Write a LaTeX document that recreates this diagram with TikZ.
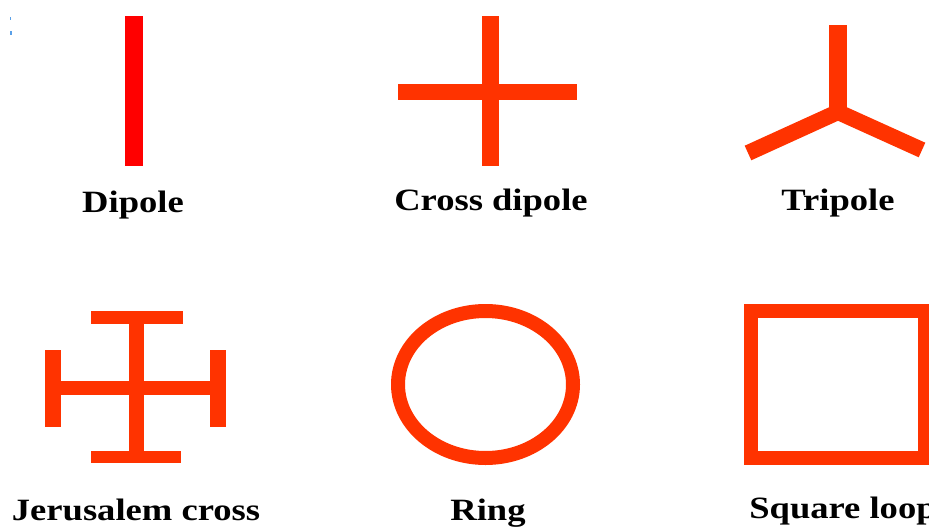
\documentclass[tikz,border=0pt]{standalone}
\usepackage{fontspec}
\setmainfont{Liberation Serif}
\definecolor{dipred}{HTML}{FF0000}
\definecolor{elemred}{HTML}{FF3300}
\definecolor{speck}{HTML}{5AA0E8}
\begin{document}
\begin{tikzpicture}[x=1pt,y=-1pt,
  lbl/.style={anchor=base,inner sep=0pt,font=\bfseries\fontsize{31}{36}\selectfont,xscale=1.18},
  elem/.style={draw=elemred,line width=14pt},
  fillel/.style={fill=elemred,draw=none}]
\useasboundingbox (0,0) rectangle (929,527);
% specks
\fill[speck] (9.8,17) rectangle (11.4,20.5);
\fill[speck] (9.6,31.5) rectangle (11.6,35.5);
% Dipole
\fill[dipred] (125,16) rectangle (143,166);
\node[lbl] (l1) at (133,212) {Dipole};
% Cross dipole
\fill[fillel] (482,16) rectangle (499,166);
\fill[fillel] (398,84) rectangle (577,100);
\node[lbl] (l2) at (491,210) {Cross dipole};
% Tripole
\coordinate (tc) at (838,112);
\coordinate (tt) at (838,25);
\coordinate (tl) at (748,153);
\coordinate (tr) at (922,150);
\draw[draw=elemred,line width=18pt] (tc) -- (tt);
\draw[draw=elemred,line width=16pt,line join=miter] (tl) -- (tc) -- (tr);
\node[lbl] (l3) at (838,210) {Tripole};
% Jerusalem cross
\fill[fillel] (129,311) rectangle (144,463);
\fill[fillel] (91,311) rectangle (183,324);
\fill[fillel] (91,451) rectangle (181,463);
\fill[fillel] (45,381) rectangle (226,395);
\fill[fillel] (45,350) rectangle (61,427);
\fill[fillel] (210,350) rectangle (226,427);
\node[lbl] (l4) at (136,520) {Jerusalem cross};
% Ring
\draw[elem] (485.5,384.5) ellipse [x radius=87.5, y radius=73.5];
\node[lbl] (l5) at (488,520) {Ring};
% Square loop
\draw[elem] (751,311) rectangle (925,458);
\node[lbl] (l6) at (843,518) {Square loop};
\end{tikzpicture}
\end{document}
